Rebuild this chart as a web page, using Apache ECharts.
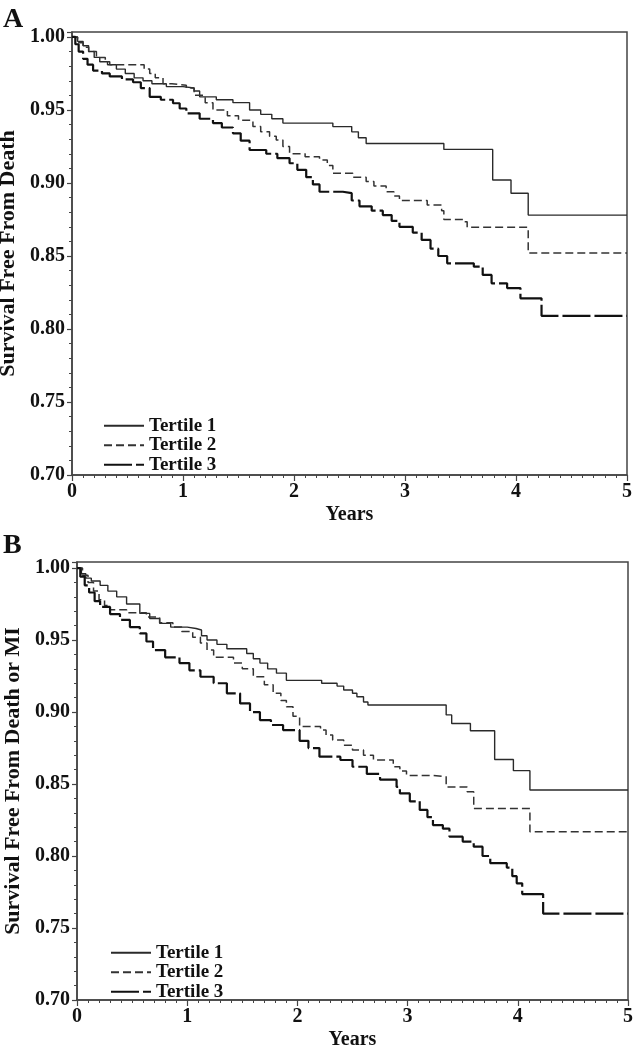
<!DOCTYPE html>
<html><head><meta charset="utf-8">
<script src="https://cdn.jsdelivr.net/npm/echarts@6/dist/echarts.min.js"></script>
<style>html,body{margin:0;padding:0;background:#fff}#c{width:634px;height:1050px}</style>
</head><body><div id="c"></div>
<script>
// Years / survival pairs (Kaplan–Meier steps)
const seriesNames = ['Tertile 1', 'Tertile 2', 'Tertile 3'];
const xTicks = [0, 1, 2, 3, 4, 5];
const yTicks = [0.70, 0.75, 0.80, 0.85, 0.90, 0.95, 1.00];

const deathT1 = [[0,1],[0.05,0.997],[0.1,0.994],[0.15,0.99],[0.2,0.986],[0.25,0.983],[0.32,0.981],[0.4,0.978],[0.48,0.975],[0.56,0.972],[0.64,0.970],[0.72,0.968],[0.85,0.966],[1.0,0.965],[1.1,0.963],[1.15,0.959],[1.3,0.957],[1.45,0.955],[1.6,0.950],[1.7,0.947],[1.8,0.944],[1.9,0.941],[2.35,0.9386],[2.52,0.935],[2.58,0.931],[2.65,0.927],[3.35,0.923],[3.79,0.902],[3.955,0.893],[4.11,0.878],[5,0.878]];
const deathT2 = [[0,1],[0.05,0.996],[0.1,0.993],[0.15,0.99],[0.22,0.986],[0.3,0.983],[0.34,0.981],[0.65,0.978],[0.7,0.975],[0.75,0.972],[0.82,0.968],[0.9,0.967],[1.03,0.965],[1.1,0.96],[1.2,0.955],[1.27,0.950],[1.4,0.946],[1.5,0.943],[1.63,0.9386],[1.7,0.935],[1.78,0.932],[1.84,0.9295],[1.9,0.925],[1.96,0.920],[2.1,0.918],[2.23,0.9158],[2.3,0.912],[2.35,0.9066],[2.53,0.904],[2.65,0.901],[2.72,0.898],[2.83,0.894],[2.9,0.891],[2.95,0.888],[3.2,0.885],[3.33,0.881],[3.35,0.875],[3.53,0.8735],[3.56,0.8697],[4.11,0.852],[5,0.852]];
const deathT3 = [[0,1],[0.03,0.995],[0.06,0.99],[0.1,0.985],[0.14,0.981],[0.19,0.977],[0.27,0.975],[0.34,0.973],[0.45,0.971],[0.55,0.969],[0.62,0.965],[0.7,0.959],[0.8,0.957],[0.91,0.9546],[0.97,0.951],[1.03,0.9477],[1.15,0.944],[1.27,0.941],[1.35,0.938],[1.45,0.934],[1.52,0.929],[1.6,0.9226],[1.75,0.920],[1.85,0.917],[1.96,0.9135],[2.03,0.909],[2.11,0.904],[2.17,0.899],[2.23,0.894],[2.44,0.893],[2.52,0.888],[2.59,0.884],[2.7,0.881],[2.8,0.878],[2.88,0.874],[2.95,0.870],[3.07,0.866],[3.15,0.861],[3.23,0.855],[3.3,0.850],[3.38,0.845],[3.62,0.8427],[3.7,0.837],[3.78,0.8313],[3.92,0.828],[4.04,0.821],[4.23,0.809],[5,0.809]];

const miT1 = [[0,1],[0.04,0.996],[0.08,0.993],[0.13,0.991],[0.21,0.988],[0.28,0.984],[0.36,0.980],[0.45,0.975],[0.57,0.9685],[0.66,0.965],[0.75,0.9616],[0.85,0.959],[1.0,0.958],[1.08,0.957],[1.13,0.953],[1.18,0.950],[1.27,0.947],[1.36,0.944],[1.54,0.9407],[1.6,0.937],[1.66,0.934],[1.73,0.930],[1.81,0.927],[1.9,0.922],[2.22,0.920],[2.36,0.918],[2.42,0.9153],[2.5,0.913],[2.54,0.9106],[2.6,0.907],[2.64,0.9049],[3.35,0.898],[3.40,0.892],[3.57,0.887],[3.79,0.867],[3.96,0.8593],[4.11,0.8458],[5,0.8458]];
const miT2 = [[0,1],[0.05,0.995],[0.1,0.99],[0.15,0.984],[0.2,0.978],[0.25,0.974],[0.3,0.971],[0.45,0.969],[0.63,0.966],[0.75,0.962],[0.87,0.959],[0.95,0.956],[1.05,0.952],[1.12,0.948],[1.18,0.943],[1.24,0.938],[1.42,0.934],[1.5,0.93],[1.6,0.9245],[1.7,0.919],[1.78,0.913],[1.85,0.908],[1.9,0.9037],[1.96,0.897],[2.02,0.890],[2.21,0.8875],[2.26,0.884],[2.32,0.8806],[2.42,0.877],[2.5,0.8736],[2.6,0.870],[2.69,0.8667],[2.87,0.862],[2.93,0.859],[2.99,0.856],[3.23,0.855],[3.35,0.848],[3.54,0.8447],[3.6,0.833],[4.11,0.8169],[5,0.8169]];
const miT3 = [[0,1],[0.03,0.994],[0.07,0.988],[0.11,0.983],[0.16,0.977],[0.21,0.973],[0.3,0.968],[0.39,0.964],[0.48,0.959],[0.57,0.9546],[0.63,0.949],[0.69,0.943],[0.8,0.938],[0.93,0.934],[1.02,0.929],[1.12,0.9245],[1.24,0.920],[1.36,0.913],[1.48,0.906],[1.57,0.900],[1.66,0.8944],[1.76,0.891],[1.87,0.8875],[2.02,0.880],[2.1,0.875],[2.2,0.869],[2.39,0.8667],[2.5,0.862],[2.63,0.857],[2.75,0.853],[2.9,0.848],[2.93,0.8435],[3.02,0.838],[3.11,0.832],[3.18,0.827],[3.23,0.8215],[3.32,0.819],[3.38,0.8134],[3.5,0.810],[3.6,0.8065],[3.68,0.80],[3.75,0.795],[3.9,0.792],[3.95,0.786],[3.99,0.781],[4.04,0.7736],[4.23,0.760],[5,0.760]];

const FONT = '"Liberation Serif","DejaVu Serif","Times New Roman",serif';
const AXC = '#444';
const styles = [
  {color:'#2a2a2a', width:1.4, type:'solid'},
  {color:'#333', width:1.5, type:[8,4]},
  {color:'#111', width:2.2, type:[28,4]}
];

function xAxisFor(gi){
  return {type:'value', gridIndex:gi, min:xTicks[0], max:xTicks[xTicks.length-1], interval:1,
    name:'Years', nameLocation:'middle', nameGap:30,
    nameTextStyle:{fontFamily:FONT, fontWeight:'bold', fontSize:20, color:'#111'},
    axisLine:{show:true, lineStyle:{color:AXC, width:1.5}},
    axisTick:{show:true, length:6, inside:false, lineStyle:{color:AXC, width:1.2}},
    minorTick:{show:true, splitNumber:10, length:3, lineStyle:{color:AXC, width:1}},
    splitLine:{show:false}, minorSplitLine:{show:false},
    axisLabel:{fontFamily:FONT, fontWeight:'bold', fontSize:20, color:'#111', margin:7, formatter:v=>String(Math.round(v))}};
}
function yAxisFor(gi, name, maxV, gap){
  return {type:'value', gridIndex:gi, min:yTicks[0], max:maxV, interval:0.05,
    name:name, nameLocation:'middle', nameGap:gap, nameRotate:90,
    nameTextStyle:{fontFamily:FONT, fontWeight:'bold', fontSize:22, color:'#111'},
    axisLine:{show:true, lineStyle:{color:AXC, width:1.5}},
    axisTick:{show:true, length:5, lineStyle:{color:AXC, width:1.2}},
    minorTick:{show:true, splitNumber:5, length:3, lineStyle:{color:AXC, width:1}},
    splitLine:{show:false},
    axisLabel:{fontFamily:FONT, fontWeight:'bold', fontSize:20, color:'#111', margin:7, showMaxLabel:false,
      formatter:v=> v>1.0001 ? '' : v.toFixed(2)}};
}
function mk(name, data, i, gi){
  return {name:name, type:'line', xAxisIndex:gi, yAxisIndex:gi, data:data, step:'end',
    symbol:'none', showSymbol:false, silent:true, animation:false,
    lineStyle:{color:styles[i].color, width:styles[i].width, type:styles[i].type},
    itemStyle:{color:styles[i].color}};
}
function legendFor(names, left, top){
  return {orient:'vertical', left:left, top:top, padding:0, itemWidth:40, itemHeight:10, itemGap:0,
    selectedMode:false, data:names,
    itemStyle:{opacity:0},
    textStyle:{fontFamily:FONT, fontWeight:'bold', fontSize:19, color:'#111', lineHeight:19.5}};
}

const chart = echarts.init(document.getElementById('c'), null, {renderer:'canvas'});
chart.setOption({
  animation:false,
  backgroundColor:'#fff',
  grid:[
    {left:72, right:7, top:32, height:443, show:true, borderColor:AXC, borderWidth:1.5, containLabel:false, outerBoundsMode:'none'},
    {left:77, right:6, top:562, height:438, show:true, borderColor:AXC, borderWidth:1.5, containLabel:false, outerBoundsMode:'none'}
  ],
  xAxis:[xAxisFor(0), xAxisFor(1)],
  yAxis:[yAxisFor(0,'Survival Free From Death',1.0034,48), yAxisFor(1,'Survival Free From Death or MI',1.0042,53)],
  legend:[
    legendFor(['Tertile 1','Tertile 2','Tertile 3'], 103, 416),
    legendFor(['Tertile 1 ','Tertile 2 ','Tertile 3 '], 110, 943)
  ],
  graphic:[
    {type:'text', left:3, top:6, style:{text:'A', font:'bold 28px '+FONT, fill:'#111'}},
    {type:'text', left:3, top:532, style:{text:'B', font:'bold 28px '+FONT, fill:'#111'}}
  ],
  series:[
    mk('Tertile 1', deathT1, 0, 0),
    mk('Tertile 2', deathT2, 1, 0),
    mk('Tertile 3', deathT3, 2, 0),
    mk('Tertile 1 ', miT1, 0, 1),
    mk('Tertile 2 ', miT2, 1, 1),
    mk('Tertile 3 ', miT3, 2, 1)
  ]
});
</script></body></html>
